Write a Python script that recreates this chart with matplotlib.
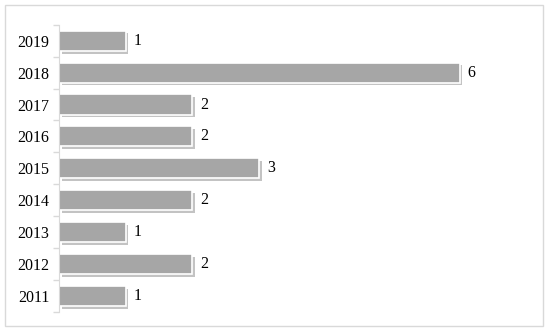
import matplotlib.pyplot as plt
import matplotlib.patheffects as pe
from matplotlib.patches import Rectangle
import numpy as np

years = ["2011", "2012", "2013", "2014", "2015", "2016", "2017", "2018", "2019"]
counts = [1, 2, 1, 2, 3, 2, 2, 6, 1]

plt.rcParams['font.family'] = ['Liberation Serif', 'DejaVu Serif']

fig = plt.figure(figsize=(5.5, 3.34), dpi=100)
ax = fig.add_axes([0.107, 0.066, 0.85, 0.86])

# outer frame
fig.patches.append(Rectangle((5 / 550, 1 - 326 / 334), 538 / 550, 321 / 334,
                             transform=fig.transFigure, fill=False,
                             edgecolor='#d9d9d9', linewidth=1))

pos = np.arange(len(years))
bars = ax.barh(pos, counts, height=0.63, color='#a6a6a6', edgecolor='white',
               linewidth=1.2)
for b in bars:
    b.set_path_effects([pe.SimplePatchShadow(offset=(2, -2), shadow_rgbFace='#888888', alpha=0.5),
                        pe.Normal()])

for p, c in zip(pos, counts):
    ax.text(c + 0.12, p, str(c), va='center', ha='left', fontsize=11.5, color='black')

ax.set_xlim(0, 7)
ax.set_ylim(-0.5, len(years) - 0.5)
ax.set_yticks(pos)
ax.set_yticklabels(years, fontsize=11.5)
ax.set_yticks(np.arange(-0.5, len(years), 1), minor=True)
ax.tick_params(axis='y', which='major', length=0, pad=7)
ax.tick_params(axis='y', which='minor', length=4, color='#d9d9d9', width=1)
ax.set_xticks([])
for s in ['top', 'right', 'bottom']:
    ax.spines[s].set_visible(False)
ax.spines['left'].set_color('#d9d9d9')

fig.savefig('out.png', dpi=100)
